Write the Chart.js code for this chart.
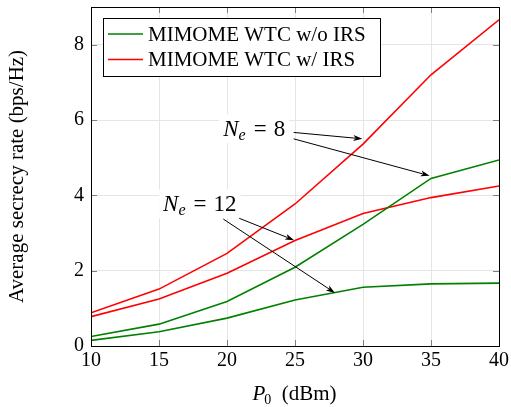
<!DOCTYPE html>
<html lang="en">
<head>
	<meta charset="UTF-8">
	<title>Average secrecy rate vs P0</title>
	<script src="https://cdn.jsdelivr.net/npm/chart.js"></script>
	<style>
		html, body { margin: 0; padding: 0; background: #fff; }
		#wrap { position: relative; width: 511px; height: 407px; }
	</style>
</head>
<body>
	<div id="wrap"><canvas id="myChart" width="511" height="407"></canvas></div>
	<script type="text/javascript">
		// transmit power P0 (dBm)
		const pLevels = [10, 15, 20, 25, 30, 35, 40];
		// with IRS (red)
		const rateIrsNe8 = [0.88, 1.51, 2.46, 3.77, 5.36, 7.20, 8.66];
		const rateIrsNe12 = [0.78, 1.25, 1.93, 2.80, 3.52, 3.94, 4.25];
		// without IRS (green)
		const rateNoIrsNe8 = [0.25, 0.58, 1.18, 2.09, 3.23, 4.45, 4.94];
		const rateNoIrsNe12 = [0.15, 0.38, 0.74, 1.22, 1.56, 1.65, 1.67];
		const yTicks = [0, 2, 4, 6, 8];
		const xTicks = [10, 15, 20, 25, 30, 35, 40];

		const labelNoIrs = 'MIMOME WTC w/o IRS';
		const labelIrs = 'MIMOME WTC w/ IRS';
		const GREEN = '#008000';
		const RED = '#ff0000';
		const FONT = '"Liberation Serif", "DejaVu Serif", serif';

		function pts(ys) {
			return pLevels.map((x, i) => ({ x: x, y: ys[i] }));
		}

		function mkSet(label, ys, color) {
			return {
				label: label,
				data: pts(ys),
				borderColor: color,
				backgroundColor: color,
				borderWidth: 1.6,
				pointRadius: 0,
				tension: 0,
				fill: false
			};
		}

		// annotation text + arrows in data coordinates
		const notes = [
			{ text: '8', at: [22.0, 5.79], arrows: [[[24.9, 5.67], [29.95, 5.50]], [[24.9, 5.50], [34.9, 4.52]]] },
			{ text: '12', at: [18.0, 3.79], arrows: [[[20.9, 3.39], [24.93, 2.81]], [[19.73, 3.37], [27.94, 1.41]]] }
		];

		function drawMathLabel(ctx, cx, cy, num, size) {
			// N_e = num
			ctx.save();
			ctx.textBaseline = 'alphabetic';
			const fN = 'italic ' + size + 'px ' + FONT;
			const fe = 'italic ' + Math.round(size * 0.7) + 'px ' + FONT;
			const fr = size + 'px ' + FONT;
			const gap = 7;
			ctx.font = fN; const wN = ctx.measureText('N').width;
			ctx.font = fe; const we = ctx.measureText('e').width;
			ctx.font = fr;
			const wEq = ctx.measureText('=').width;
			const wNum = ctx.measureText(num).width;
			const w = wN + we + 1 + gap + wEq + gap + wNum;
			let x = cx - w / 2;
			const base = cy + size * 0.33;
			ctx.fillStyle = '#fff';
			ctx.fillRect(x - 4, cy - size * 0.6, w + 8, size * 1.25);
			ctx.fillStyle = '#000';
			ctx.font = fN; ctx.fillText('N', x, base); x += wN;
			ctx.font = fe; ctx.fillText('e', x, base + size * 0.2); x += we + 1 + gap;
			ctx.font = fr; ctx.fillText('=', x, base); x += wEq + gap;
			ctx.fillText(num, x, base);
			ctx.restore();
		}

		function arrow(ctx, x1, y1, x2, y2) {
			const a = Math.atan2(y2 - y1, x2 - x1);
			const L = 9, W = 3;
			ctx.beginPath();
			ctx.moveTo(x1, y1);
			ctx.lineTo(x2 - Math.cos(a) * L * 0.8, y2 - Math.sin(a) * L * 0.8);
			ctx.stroke();
			ctx.beginPath();
			ctx.moveTo(x2, y2);
			ctx.lineTo(x2 - Math.cos(a) * L + Math.sin(a) * W, y2 - Math.sin(a) * L - Math.cos(a) * W);
			ctx.lineTo(x2 - Math.cos(a) * L * 0.75, y2 - Math.sin(a) * L * 0.75);
			ctx.lineTo(x2 - Math.cos(a) * L - Math.sin(a) * W, y2 - Math.sin(a) * L + Math.cos(a) * W);
			ctx.closePath();
			ctx.fill();
		}

		const decor = {
			id: 'decor',
			afterDatasetsDraw(chart) {
				const ctx = chart.ctx;
				const xs = chart.scales.x, ys = chart.scales.y;
				const a = chart.chartArea;
				ctx.save();
				// inward tick marks on all four sides
				ctx.strokeStyle = '#808080';
				ctx.lineWidth = 1;
				ctx.beginPath();
				xTicks.forEach(v => {
					const px = Math.round(xs.getPixelForValue(v)) + 0.5;
					ctx.moveTo(px, a.bottom); ctx.lineTo(px, a.bottom - 6);
					ctx.moveTo(px, a.top); ctx.lineTo(px, a.top + 6);
				});
				yTicks.forEach(v => {
					const py = Math.round(ys.getPixelForValue(v)) + 0.5;
					ctx.moveTo(a.left, py); ctx.lineTo(a.left + 6, py);
					ctx.moveTo(a.right, py); ctx.lineTo(a.right - 6, py);
				});
				ctx.stroke();
				// frame
				ctx.strokeStyle = '#000';
				ctx.strokeRect(Math.round(a.left) + 0.5, Math.round(a.top) + 0.5, Math.round(a.right - a.left), Math.round(a.bottom - a.top));

				// annotations
				ctx.strokeStyle = '#000';
				ctx.fillStyle = '#000';
				ctx.lineWidth = 1;
				notes.forEach(n => {
					drawMathLabel(ctx, xs.getPixelForValue(n.at[0]), ys.getPixelForValue(n.at[1]), n.text, 23);
					n.arrows.forEach(ar => {
						ctx.fillStyle = '#000';
						arrow(ctx, xs.getPixelForValue(ar[0][0]), ys.getPixelForValue(ar[0][1]),
							xs.getPixelForValue(ar[1][0]), ys.getPixelForValue(ar[1][1]));
					});
				});

				// legend box
				const seen = [];
				chart.data.datasets.forEach(d => {
					if (!seen.find(s => s.label === d.label)) seen.push(d);
				});
				const lx = a.left + 12, ly = a.top + 11, lw = 277, lh = 58;
				ctx.fillStyle = '#fff';
				ctx.fillRect(lx, ly, lw, lh);
				ctx.strokeStyle = '#000';
				ctx.lineWidth = 1;
				ctx.strokeRect(lx + 0.5, ly + 0.5, lw, lh);
				ctx.font = '21px ' + FONT;
				ctx.textBaseline = 'middle';
				seen.forEach((d, i) => {
					const cy = ly + 16 + i * 25.5;
					ctx.strokeStyle = d.borderColor;
					ctx.lineWidth = 1.6;
					ctx.beginPath();
					ctx.moveTo(lx + 5, cy); ctx.lineTo(lx + 40, cy);
					ctx.stroke();
					ctx.fillStyle = '#000';
					ctx.fillText(d.label, lx + 45, cy + 1);
				});

				// x axis title: P_0 (dBm)
				const tx = (a.left + a.right) / 2, ty = 400;
				ctx.textBaseline = 'alphabetic';
				const fP = 'italic 21px ' + FONT, fs = '14px ' + FONT, fr = '21px ' + FONT;
				ctx.font = fP; const wP = ctx.measureText('P').width;
				ctx.font = fs; const w0 = ctx.measureText('0').width;
				ctx.font = fr; const wr = ctx.measureText('  (dBm)').width;
				let x = tx - (wP + w0 + wr) / 2;
				ctx.fillStyle = '#000';
				ctx.font = fP; ctx.fillText('P', x, ty); x += wP - 1;
				ctx.font = fs; ctx.fillText('0', x, ty + 4); x += w0;
				ctx.font = fr; ctx.fillText('  (dBm)', x, ty);
				ctx.restore();
			}
		};

		const ctx = document.getElementById('myChart');
		const myChart = new Chart(ctx, {
			type: 'line',
			data: {
				datasets: [
					mkSet(labelNoIrs, rateNoIrsNe8, GREEN),
					mkSet(labelIrs, rateIrsNe8, RED),
					mkSet(labelNoIrs, rateNoIrsNe12, GREEN),
					mkSet(labelIrs, rateIrsNe12, RED)
				]
			},
			options: {
				responsive: false,
				animation: false,
				layout: { padding: { top: 7, right: 12, left: 0, bottom: 0 } },
				plugins: {
					legend: { display: false },
					tooltip: { enabled: false }
				},
				scales: {
					x: {
						type: 'linear',
						min: 10,
						max: 40,
						afterBuildTicks: s => { s.ticks = xTicks.map(v => ({ value: v })); },
						afterFit: s => { s.height = 61; s.paddingLeft = 0; s.paddingRight = 0; },
						grid: { color: '#e5e5e5', drawTicks: false },
						border: { display: false },
						ticks: { color: '#000', padding: 3, maxRotation: 0, font: { family: FONT, size: 20 } }
					},
					y: {
						min: 0,
						max: 9,
						afterBuildTicks: s => { s.ticks = yTicks.map(v => ({ value: v })); },
						afterFit: s => { s.width = 91; s.paddingTop = 0; s.paddingBottom = 0; },
						grid: { color: '#e5e5e5', drawTicks: false },
						border: { display: false },
						ticks: { color: '#000', padding: 7, font: { family: FONT, size: 20 } },
						title: {
							display: true,
							text: 'Average secrecy rate (bps/Hz)',
							color: '#000',
							padding: { top: 5, bottom: 0 },
							font: { family: FONT, size: 21 }
						}
					}
				}
			},
			plugins: [decor]
		});
	</script>
</body>
</html>
